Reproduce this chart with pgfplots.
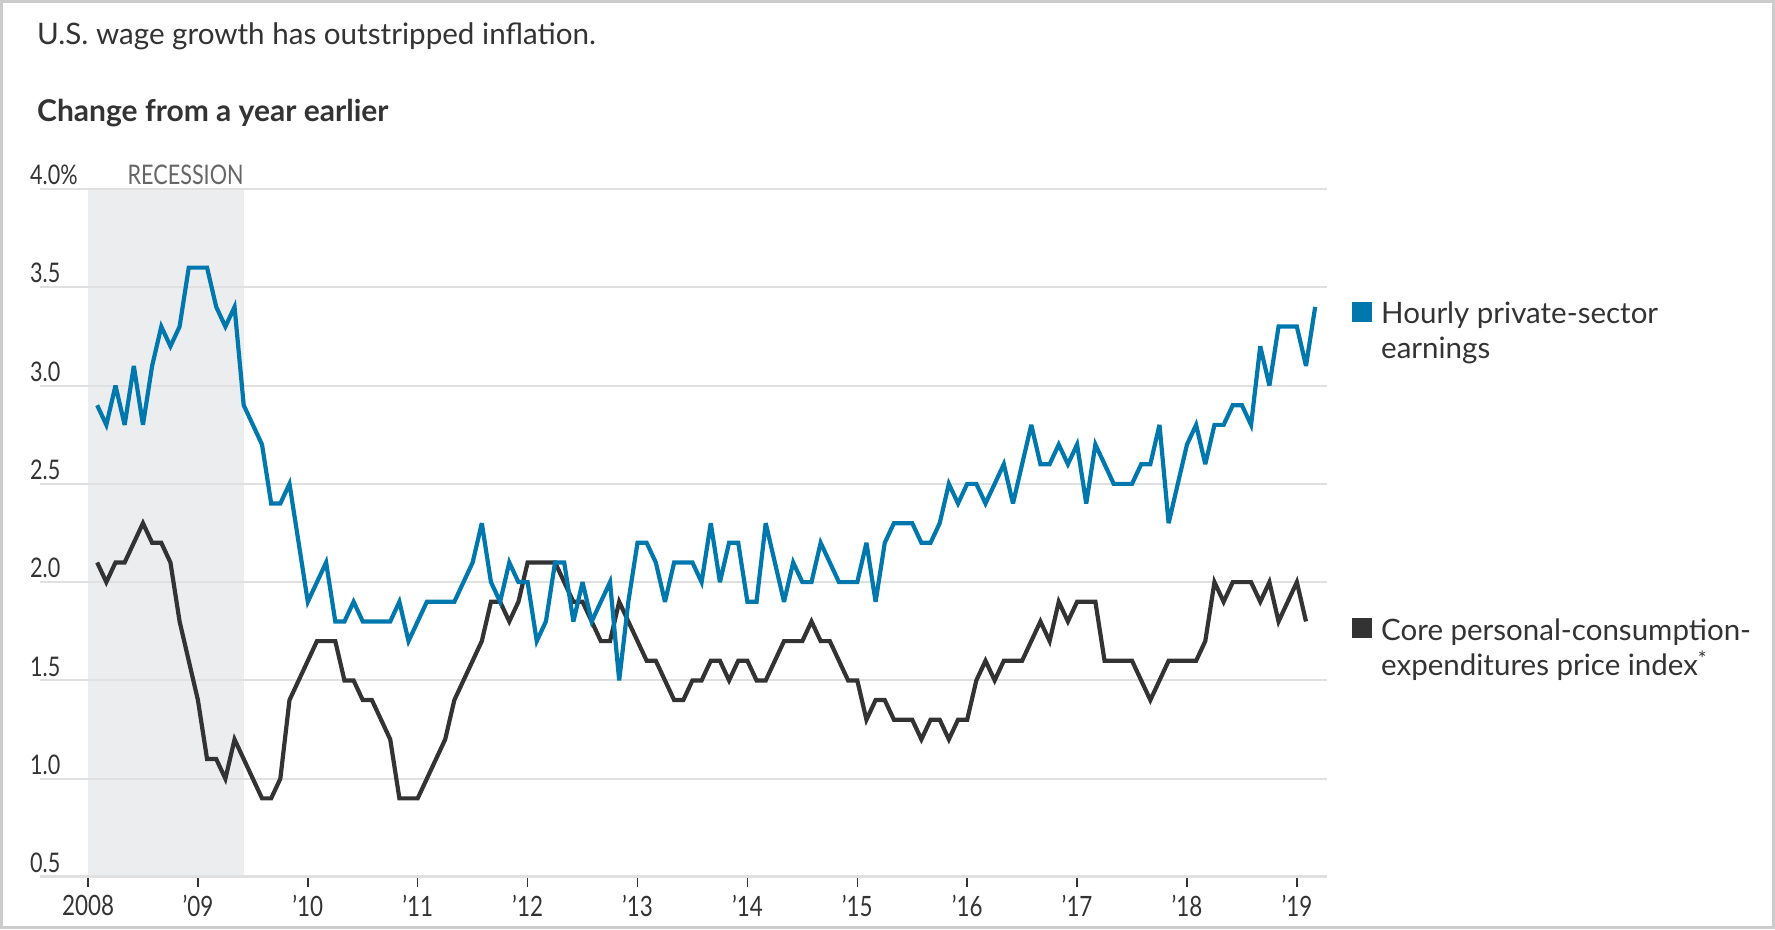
\documentclass[border=0pt]{standalone}
\usepackage{fontspec}
\setmainfont{Lato}
\newfontfamily\narrowfont[FakeStretch=0.8]{Lato}
\usepackage{pgfplots}
\usepackage{pgfplotstable}
\pgfplotsset{compat=1.18}

\definecolor{wsjblue}{RGB}{0,120,174}
\definecolor{wsjblack}{RGB}{51,51,51}
\definecolor{txt}{RGB}{51,51,51}
\definecolor{recess}{RGB}{236,237,239}
\definecolor{gridgray}{RGB}{224,224,224}
\definecolor{framegray}{RGB}{204,204,204}

% month index (1 = Jan 2008), year-over-year change in %
\pgfplotstableread{
m v
1 2.9
2 2.8
3 3.0
4 2.8
5 3.1
6 2.8
7 3.1
8 3.3
9 3.2
10 3.3
11 3.6
12 3.6
13 3.6
14 3.4
15 3.3
16 3.4
17 2.9
18 2.8
19 2.7
20 2.4
21 2.4
22 2.5
23 2.2
24 1.9
25 2.0
26 2.1
27 1.8
28 1.8
29 1.9
30 1.8
31 1.8
32 1.8
33 1.8
34 1.9
35 1.7
36 1.8
37 1.9
38 1.9
39 1.9
40 1.9
41 2.0
42 2.1
43 2.3
44 2.0
45 1.9
46 2.1
47 2.0
48 2.0
49 1.7
50 1.8
51 2.1
52 2.1
53 1.8
54 2.0
55 1.8
56 1.9
57 2.0
58 1.5
59 1.9
60 2.2
61 2.2
62 2.1
63 1.9
64 2.1
65 2.1
66 2.1
67 2.0
68 2.3
69 2.0
70 2.2
71 2.2
72 1.9
73 1.9
74 2.3
75 2.1
76 1.9
77 2.1
78 2.0
79 2.0
80 2.2
81 2.1
82 2.0
83 2.0
84 2.0
85 2.2
86 1.9
87 2.2
88 2.3
89 2.3
90 2.3
91 2.2
92 2.2
93 2.3
94 2.5
95 2.4
96 2.5
97 2.5
98 2.4
99 2.5
100 2.6
101 2.4
102 2.6
103 2.8
104 2.6
105 2.6
106 2.7
107 2.6
108 2.7
109 2.4
110 2.7
111 2.6
112 2.5
113 2.5
114 2.5
115 2.6
116 2.6
117 2.8
118 2.3
119 2.5
120 2.7
121 2.8
122 2.6
123 2.8
124 2.8
125 2.9
126 2.9
127 2.8
128 3.2
129 3.0
130 3.3
131 3.3
132 3.3
133 3.1
134 3.4
}\wage

\pgfplotstableread{
m v
1 2.1
2 2.0
3 2.1
4 2.1
5 2.2
6 2.3
7 2.2
8 2.2
9 2.1
10 1.8
11 1.6
12 1.4
13 1.1
14 1.1
15 1.0
16 1.2
17 1.1
18 1.0
19 0.9
20 0.9
21 1.0
22 1.4
23 1.5
24 1.6
25 1.7
26 1.7
27 1.7
28 1.5
29 1.5
30 1.4
31 1.4
32 1.3
33 1.2
34 0.9
35 0.9
36 0.9
37 1.0
38 1.1
39 1.2
40 1.4
41 1.5
42 1.6
43 1.7
44 1.9
45 1.9
46 1.8
47 1.9
48 2.1
49 2.1
50 2.1
51 2.1
52 2.0
53 1.9
54 1.9
55 1.8
56 1.7
57 1.7
58 1.9
59 1.8
60 1.7
61 1.6
62 1.6
63 1.5
64 1.4
65 1.4
66 1.5
67 1.5
68 1.6
69 1.6
70 1.5
71 1.6
72 1.6
73 1.5
74 1.5
75 1.6
76 1.7
77 1.7
78 1.7
79 1.8
80 1.7
81 1.7
82 1.6
83 1.5
84 1.5
85 1.3
86 1.4
87 1.4
88 1.3
89 1.3
90 1.3
91 1.2
92 1.3
93 1.3
94 1.2
95 1.3
96 1.3
97 1.5
98 1.6
99 1.5
100 1.6
101 1.6
102 1.6
103 1.7
104 1.8
105 1.7
106 1.9
107 1.8
108 1.9
109 1.9
110 1.9
111 1.6
112 1.6
113 1.6
114 1.6
115 1.5
116 1.4
117 1.5
118 1.6
119 1.6
120 1.6
121 1.6
122 1.7
123 2.0
124 1.9
125 2.0
126 2.0
127 2.0
128 1.9
129 2.0
130 1.8
131 1.9
132 2.0
133 1.8
}\pce

\begin{document}
\begin{tikzpicture}
\draw[framegray, line width=3pt] (1.5pt,1.5pt) rectangle (1773.5pt,927.5pt);

\node[anchor=base west, inner sep=0pt, text=txt, font=\fontsize{29.6}{36}\selectfont]
  at (37pt,884pt) {U.S. wage growth has outstripped inflation.};
\node[anchor=base west, inner sep=0pt, text=txt, font=\fontsize{30}{36}\selectfont\bfseries]
  at (37pt,807pt) {Change from a year earlier};

\begin{axis}[
    at={(40pt,52pt)}, anchor=south west,
    scale only axis, width=1287pt, height=688pt,
    set layers,
    xmin=2007.563, xmax=2019.274,
    ymin=0.5, ymax=4,
    axis x line*=bottom, axis y line*=left,
    x axis line style={draw=gridgray, line width=3pt, -},
    y axis line style={draw=none},
    ymajorgrids,
    grid style={draw=gridgray, line width=2pt},
    xtick={2008,2009,2010,2011,2012,2013,2014,2015,2016,2017,2018,2019},
    xticklabels={2008,’09,’10,’11,’12,’13,’14,’15,’16,’17,’18,’19},
    ytick={0.5,1,1.5,2,2.5,3,3.5,4},
    yticklabels={0.5,1.0,1.5,2.0,2.5,3.0,3.5,4.0\%},
    tick align=outside,
    major tick length=10pt,
    xtick style={draw=txt, line width=1.5pt},
    ytick style={draw=none},
    xticklabel style={font=\narrowfont\fontsize{28}{30}\selectfont, text=txt,
        anchor=north, inner sep=0pt, yshift=-8pt},
    yticklabel style={font=\narrowfont\fontsize{27}{30}\selectfont, text=txt,
        anchor=south west, inner sep=0pt, yshift=4pt},
]
\addplot[on layer=axis background, fill=recess, draw=none]
  coordinates {(2008,0.5) (2009.417,0.5) (2009.417,4) (2008,4)} -- cycle;
\addplot[wsjblack, line width=4.2pt, line join=miter, miter limit=4]
  table[x expr=2008+\thisrow{m}/12, y=v] {\pce};
\addplot[wsjblue, line width=4.2pt, line join=miter, miter limit=4]
  table[x expr=2008+\thisrow{m}/12, y=v] {\wage};
\end{axis}

\node[anchor=south east, inner sep=0pt, text=black!60, font=\narrowfont\fontsize{27}{30}\selectfont]
  at (243.7pt,744pt) {RECESSION};

\fill[wsjblue] (1352pt,607pt) rectangle (1372pt,627pt);
\node[anchor=base west, inner sep=0pt, text=txt, font=\fontsize{29.5}{35}\selectfont]
  at (1381pt,605pt) {Hourly private-sector};
\node[anchor=base west, inner sep=0pt, text=txt, font=\fontsize{29.5}{35}\selectfont]
  at (1381pt,570pt) {earnings};
\fill[wsjblack] (1352pt,291pt) rectangle (1372pt,311pt);
\node[anchor=base west, inner sep=0pt, text=txt, font=\fontsize{29.5}{35}\selectfont]
  at (1381pt,288pt) {Core personal-consumption-};
\node[anchor=base west, inner sep=0pt, text=txt, font=\fontsize{29.5}{35}\selectfont]
  at (1381pt,253pt) {expenditures price index\textsuperscript{*}};
\end{tikzpicture}
\end{document}
